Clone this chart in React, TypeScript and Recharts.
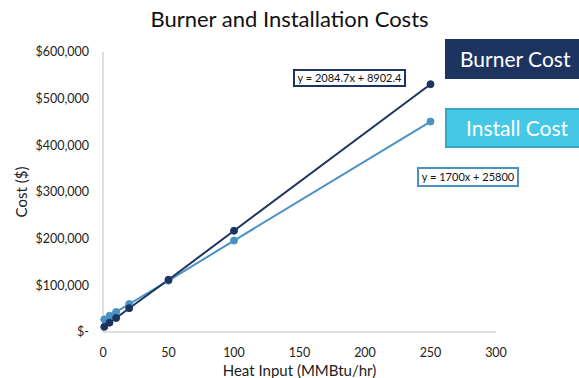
import { LineChart, Line, XAxis, YAxis, Label } from "recharts";

const burnerX = [1, 5, 10, 20, 50, 100, 250];
const burnerCost = [11000, 20000, 30000, 51000, 112000, 217000, 531000];
const installX = [1, 5, 10, 20, 50, 100, 250];
const installCost = [27000, 35000, 43000, 60000, 110000, 196000, 451000];
const xTicks = [0, 50, 100, 150, 200, 250, 300];
const yTicks = [0, 100000, 200000, 300000, 400000, 500000, 600000];

const burnerData = burnerX.map((x, i) => ({ x, cost: burnerCost[i] }));
const installData = installX.map((x, i) => ({ x, cost: installCost[i] }));

const BURNER = "#1d3461";
const INSTALL = "#4a92c2";
const FONT = "Lato, 'Open Sans', sans-serif";

const fmtMoney = (v: number) => (v === 0 ? "$-" : "$" + v.toLocaleString("en-US"));

export default function App() {
  return (
    <div style={{ position: "absolute", left: 0, top: 0, width: 579, height: 378, background: "#fff", fontFamily: FONT, overflow: "hidden" }}>
      <LineChart width={579} height={378} margin={{ top: 52, right: 83, bottom: 0, left: 0 }}>
        <XAxis
          type="number"
          dataKey="x"
          domain={[0, 300]}
          ticks={xTicks}
          tickLine={false}
          tickMargin={10}
          height={46}
          stroke="#bfbfbf"
          tick={{ fill: "#222", fontSize: 12.5, fontFamily: FONT }}
        >
          <Label value="Heat Input (MMBtu/hr)" position="insideBottom" offset={2} style={{ fill: "#222", fontSize: 15, fontFamily: FONT }} />
        </XAxis>
        <YAxis
          type="number"
          domain={[0, 600000]}
          ticks={yTicks}
          tickFormatter={fmtMoney}
          tickLine={false}
          tickSize={0}
          tickMargin={14}
          width={103}
          stroke="#bfbfbf"
          tick={{ fill: "#222", fontSize: 12.5, fontFamily: FONT }}
        >
          <Label value="Cost ($)" angle={-90} position="insideLeft" offset={22} style={{ textAnchor: "middle", fill: "#222", fontSize: 15, fontFamily: FONT }} />
        </YAxis>
        <Line
          data={installData}
          dataKey="cost"
          stroke={INSTALL}
          strokeWidth={2}
          dot={{ r: 3.5, fill: INSTALL, stroke: INSTALL, strokeWidth: 1 }}
          isAnimationActive={false}
        />
        <Line
          data={burnerData}
          dataKey="cost"
          stroke={BURNER}
          strokeWidth={2}
          dot={{ r: 3.5, fill: BURNER, stroke: BURNER, strokeWidth: 1 }}
          isAnimationActive={false}
        />
      </LineChart>

      <div style={{ position: "absolute", left: 0, width: 579, top: 5, textAlign: "center", fontSize: 22, color: "#111" }}>
        Burner and Installation Costs
      </div>

      <div style={{ position: "absolute", left: 445, top: 39, width: 140, height: 40, background: BURNER, color: "#fff", fontSize: 21, lineHeight: "40px", paddingLeft: 15, boxSizing: "border-box" }}>
        Burner Cost
      </div>
      <div style={{ position: "absolute", left: 445, top: 108, width: 140, height: 40, background: "#45c8e6", border: "2px solid #3aa3bd", color: "#fff", fontSize: 21, lineHeight: "36px", paddingLeft: 19, boxSizing: "border-box" }}>
        Install Cost
      </div>

      <div style={{ position: "absolute", left: 293, top: 69, width: 113, height: 18, border: `2px solid ${BURNER}`, boxSizing: "border-box", background: "#fff", fontSize: 11, lineHeight: "14px", textAlign: "center", color: "#111", whiteSpace: "nowrap" }}>
        y = 2084.7x + 8902.4
      </div>
      <div style={{ position: "absolute", left: 417, top: 167, width: 102, height: 20, border: `2px solid ${INSTALL}`, boxSizing: "border-box", background: "#fff", fontSize: 11, lineHeight: "16px", textAlign: "center", color: "#111", whiteSpace: "nowrap" }}>
        y = 1700x + 25800
      </div>
    </div>
  );
}
